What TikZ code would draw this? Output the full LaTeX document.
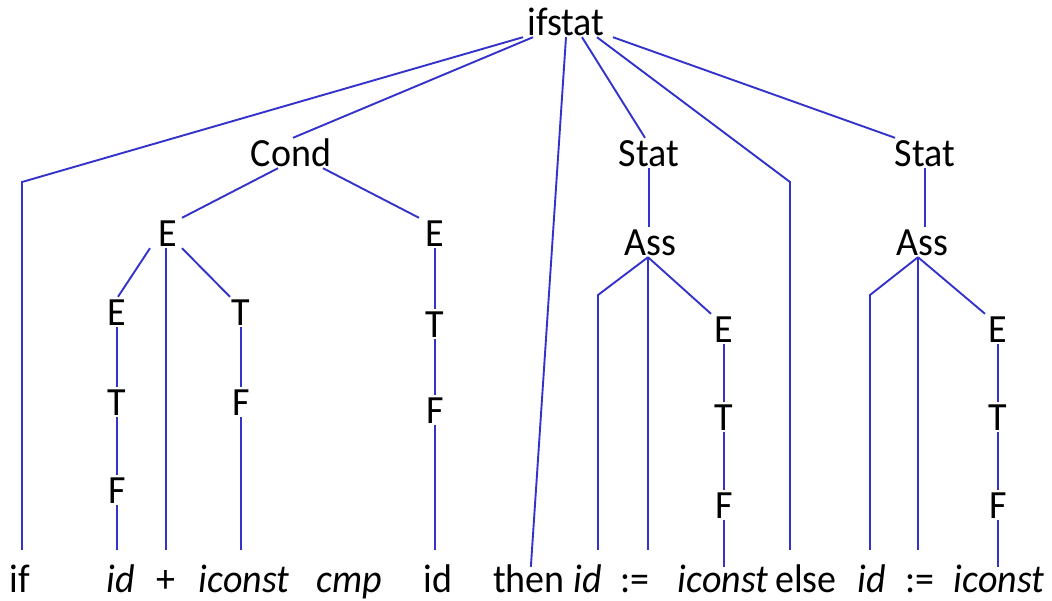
\documentclass[tikz,border=0pt]{standalone}
\usepackage{fontspec}
\setmainfont[FakeStretch=0.95]{Carlito}
\usepackage{tikz}

\definecolor{treeblue}{RGB}{51,51,204}
\tikzset{
  sym/.style={anchor=base, inner sep=2pt, text height=26pt, text depth=0pt,
    font=\fontsize{40}{48}\selectfont},
  leaf/.style={sym, text height=40pt},
  branch/.style={draw=treeblue, line width=1.9pt},
}

\begin{document}
\begin{tikzpicture}[x=1pt, y=-1pt]
\useasboundingbox (0,0) rectangle (1052,600);

% raiz y segundo nivel
\node[sym] (ifstat) at (566,35) {ifstat};
\node[sym] (cond) at (291,166) {Cond};
\node[sym] (statA) at (649,166) {Stat};
\node[sym] (statB) at (925,166) {Stat};

% expresiones de la condicion
\node[sym] (eL) at (168,246) {E};
\node[sym] (eR) at (435,246) {E};
\node[sym] (eLL) at (117,325) {E};
\node[sym] (tLR) at (241,325) {T};
\node[sym] (tLL) at (117,415) {T};
\node[sym] (fLR) at (241,415) {F};
\node[sym] (fLL) at (117,503) {F};
\node[sym] (tR) at (435,337) {T};
\node[sym] (fR) at (435,423) {F};

% asignaciones
\node[sym] (assA) at (650,255) {Ass};
\node[sym] (eA) at (724,342) {E};
\node[sym] (tA) at (724,430) {T};
\node[sym] (fA) at (724,518) {F};
\node[sym] (assB) at (922,255) {Ass};
\node[sym] (eB) at (998,342) {E};
\node[sym] (tB) at (998,430) {T};
\node[sym] (fB) at (998,518) {F};

% hojas (tokens)
\node[leaf] (kwIf) at (20,592) {if};
\node[leaf] (id1) at (121,592) {\itshape id};
\node[leaf] (plus) at (166,592) {+};
\node[leaf] (iconst1) at (244,592) {\itshape iconst};
\node[leaf] (cmp) at (349,592) {\itshape cmp};
\node[leaf] (id2) at (438,592) {id};
\node[leaf] (kwThen) at (529,592) {then};
\node[leaf] (id3) at (588,592) {\itshape id};
\node[leaf] (assign1) at (635,592) {:=};
\node[leaf] (iconst2) at (723,592) {\itshape iconst};
\node[leaf] (kwElse) at (806,592) {else};
\node[leaf] (id4) at (872,592) {\itshape id};
\node[leaf] (assign2) at (920,592) {:=};
\node[leaf] (iconst3) at (999,592) {\itshape iconst};

% esquinas de las ramas
\coordinate (ifbend) at (22,182);
\coordinate (elsebend) at (790,182);
\coordinate (bendA) at (598,295);
\coordinate (bendB) at (870,295);

% ramas de ifstat
\draw[branch] ([xshift=-43pt]ifstat.south) -- (ifbend) -- (ifbend |- kwIf.north);
\draw[branch] ([xshift=-33pt]ifstat.south) -- ([xshift=2pt]cond.north);
\draw[branch, shorten >=-17pt] (ifstat.south) -- ([xshift=3pt]kwThen.north);
\draw[branch] ([xshift=16pt]ifstat.south) -- ([xshift=-4pt]statA.north);
\draw[branch] ([xshift=31pt]ifstat.south) -- (elsebend) -- (elsebend |- kwElse.north);
\draw[branch] ([xshift=47pt]ifstat.south) -- ([xshift=-30pt]statB.north);

% ramas de Cond
\draw[branch] ([xshift=-13pt]cond.south) -- ([xshift=14pt]eL.north);
\draw[branch] ([xshift=32pt]cond.south) -- ([xshift=-16pt]eR.north);
\draw[branch] ([xshift=-18pt]eL.south) -- ([xshift=1pt]eLL.north);
\draw[branch] (plus |- eL.south) -- (plus);
\draw[branch] ([xshift=14pt]eL.south) -- ([xshift=-11pt]tLR.north);
\draw[branch] (eLL) -- (tLL);
\draw[branch] (tLL) -- (fLL);
\draw[branch] (fLL) -- (fLL |- id1.north);
\draw[branch] (tLR) -- (fLR);
\draw[branch] (fLR) -- (fLR |- iconst1.north);
\draw[branch] (eR) -- (tR);
\draw[branch] (tR) -- (fR);
\draw[branch] (fR) -- (fR |- id2.north);

% ramas de las asignaciones
\draw[branch] (statA) -- (statA |- assA.north);
\draw[branch] ([xshift=-2pt]assA.south) -- (bendA) -- (bendA |- id3.north);
\draw[branch] ([xshift=-2pt]assA.south) -- ([xshift=-2pt]assA.south |- assign1.north);
\draw[branch] ([xshift=-2pt]assA.south) -- ([xshift=-13pt]eA.north);
\draw[branch] (eA) -- (tA);
\draw[branch] (tA) -- (fA);
\draw[branch, shorten >=-17pt] (fA) -- (fA |- iconst2.north);

\draw[branch] (statB) -- (statB |- assB.north);
\draw[branch] ([xshift=-4pt]assB.south) -- (bendB) -- (bendB |- id4.north);
\draw[branch] ([xshift=-4pt]assB.south) -- ([xshift=-4pt]assB.south |- assign2.north);
\draw[branch] ([xshift=-4pt]assB.south) -- ([xshift=-13pt]eB.north);
\draw[branch] (eB) -- (tB);
\draw[branch] (tB) -- (fB);
\draw[branch, shorten >=-17pt] (fB) -- (fB |- iconst3.north);

\end{tikzpicture}
\end{document}
